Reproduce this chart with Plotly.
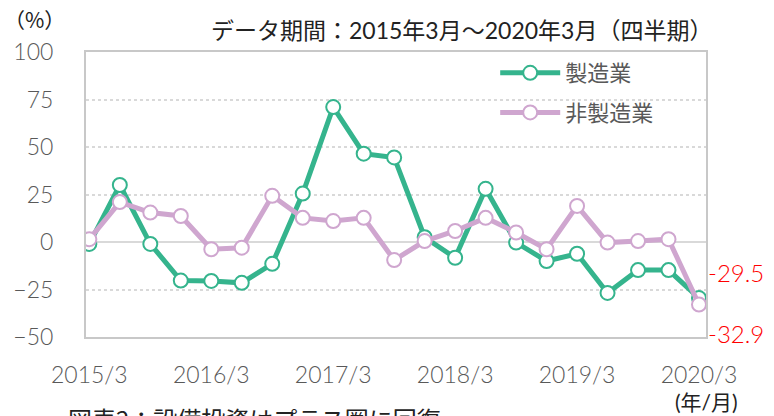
import plotly.graph_objects as go

quarters = ["2015/3","2015/6","2015/9","2015/12","2016/3","2016/6","2016/9","2016/12",
            "2017/3","2017/6","2017/9","2017/12","2018/3","2018/6","2018/9","2018/12",
            "2019/3","2019/6","2019/9","2019/12","2020/3"]
manufacturing = [-1, 30, -1, -20.3, -20.5, -21.5, -11.5, 25.5, 71, 46.5, 44.5, 2.5,
                 -8.3, 28, -0.3, -10, -6.2, -26.8, -14.8, -14.8, -29.5]
non_manufacturing = [1.5, 21, 15.5, 13.7, -3.8, -3, 24.3, 12.7, 11, 12.7, -9.5, 0.5,
                     5.8, 12.7, 5, -3.8, 19, -0.3, 0.5, 1.5, -32.9]
tick_labels = ["2015/3", "2016/3", "2017/3", "2018/3", "2019/3", "2020/3"]
y_ticks = [-50, -25, 0, 25, 50, 75, 100]

GREEN = "#35b48d"
PINK = "#cfa6cf"
GRAY = "#595959"
FONT = "Lato, Noto Sans CJK JP"
CJK = "Noto Sans CJK JP"

x = list(range(len(quarters)))
tick_pos = [quarters.index(t) for t in tick_labels]

fig = go.Figure()
fig.add_trace(go.Scatter(
    x=x, y=manufacturing, name="製造業", mode="lines+markers", legendgroup="a",
    line=dict(color=GREEN, width=5),
    marker=dict(symbol="circle", size=14, color="white", line=dict(color=GREEN, width=2)),
))
fig.add_trace(go.Scatter(
    x=x, y=non_manufacturing, name="非製造業", mode="lines+markers", legendgroup="b",
    line=dict(color=PINK, width=5),
    marker=dict(symbol="circle", size=14, color="white", line=dict(color=PINK, width=2)),
))

fig.update_layout(
    width=774, height=416,
    margin=dict(l=86, r=68, t=52, b=79),
    paper_bgcolor="white", plot_bgcolor="white",
    font=dict(family=FONT, color=GRAY, size=20),
    showlegend=True,
    legend=dict(x=0.66, y=1.0, xanchor="left", yanchor="top",
                bgcolor="rgba(0,0,0,0)", font=dict(size=22, color=GRAY, family=CJK),
                traceorder="grouped", tracegroupgap=8, itemwidth=60),
)
fig.update_xaxes(
    range=[-0.11, 20.23], tickmode="array", tickvals=tick_pos, ticktext=tick_labels,
    showgrid=False, zeroline=False, showline=True, mirror=True,
    linecolor="#c8c8c8", linewidth=2, ticks="", ticklabelstandoff=16,
    tickfont=dict(size=23, color=GRAY, family=FONT, weight=300),
)
fig.update_yaxes(
    range=[-50, 100], tickmode="array", tickvals=y_ticks,
    showgrid=True, gridcolor="#d9d9d9", griddash="dot", gridwidth=1.5,
    zeroline=True, zerolinecolor="#d9d9d9", zerolinewidth=2,
    showline=True, mirror=True, linecolor="#c8c8c8", linewidth=2, ticks="",
    ticklabelstandoff=26,
    tickfont=dict(size=23, color=GRAY, family=FONT, weight=300),
)

ann = []
ann.append(dict(text="データ期間：2015年3月～2020年3月（四半期）", xref="paper", yref="paper",
                x=1.0, y=1.0, xanchor="right", yanchor="bottom", yshift=6, xshift=8, showarrow=False,
                font=dict(size=23, color="#222222", family=FONT)))
ann.append(dict(text="（%）", xref="paper", yref="paper", x=0, y=1.0, xanchor="right",
                yanchor="bottom", xshift=-19, yshift=16, showarrow=False,
                font=dict(size=21, color="#222222", family=CJK)))
ann.append(dict(text=f"{manufacturing[-1]}", xref="paper", yref="y", x=1.0, y=manufacturing[-1],
                xanchor="left", yanchor="middle", yshift=26, showarrow=False,
                font=dict(size=24, color="#ff0000", family=FONT, weight=300)))
ann.append(dict(text=f"{non_manufacturing[-1]}", xref="paper", yref="y", x=1.0, y=non_manufacturing[-1],
                xanchor="left", yanchor="middle", yshift=-29, showarrow=False,
                font=dict(size=24, color="#ff0000", family=FONT, weight=300)))
ann.append(dict(text="(年/月)", xref="paper", yref="paper", x=1.0, y=0, xanchor="center",
                yanchor="top", yshift=-50, showarrow=False,
                font=dict(size=21, color="#222222", family=FONT)))
ann.append(dict(text="図表2：設備投資はプラス圏に回復", xref="paper", yref="paper", x=0, y=0,
                xanchor="left", yanchor="top", xshift=-20, yshift=-62, showarrow=False,
                font=dict(size=24, color="#222222", family=CJK)))
fig.update_layout(annotations=ann)

fig.write_html("out.html", post_script="document.body.style.margin='0';",
               config={"displayModeBar": False})
